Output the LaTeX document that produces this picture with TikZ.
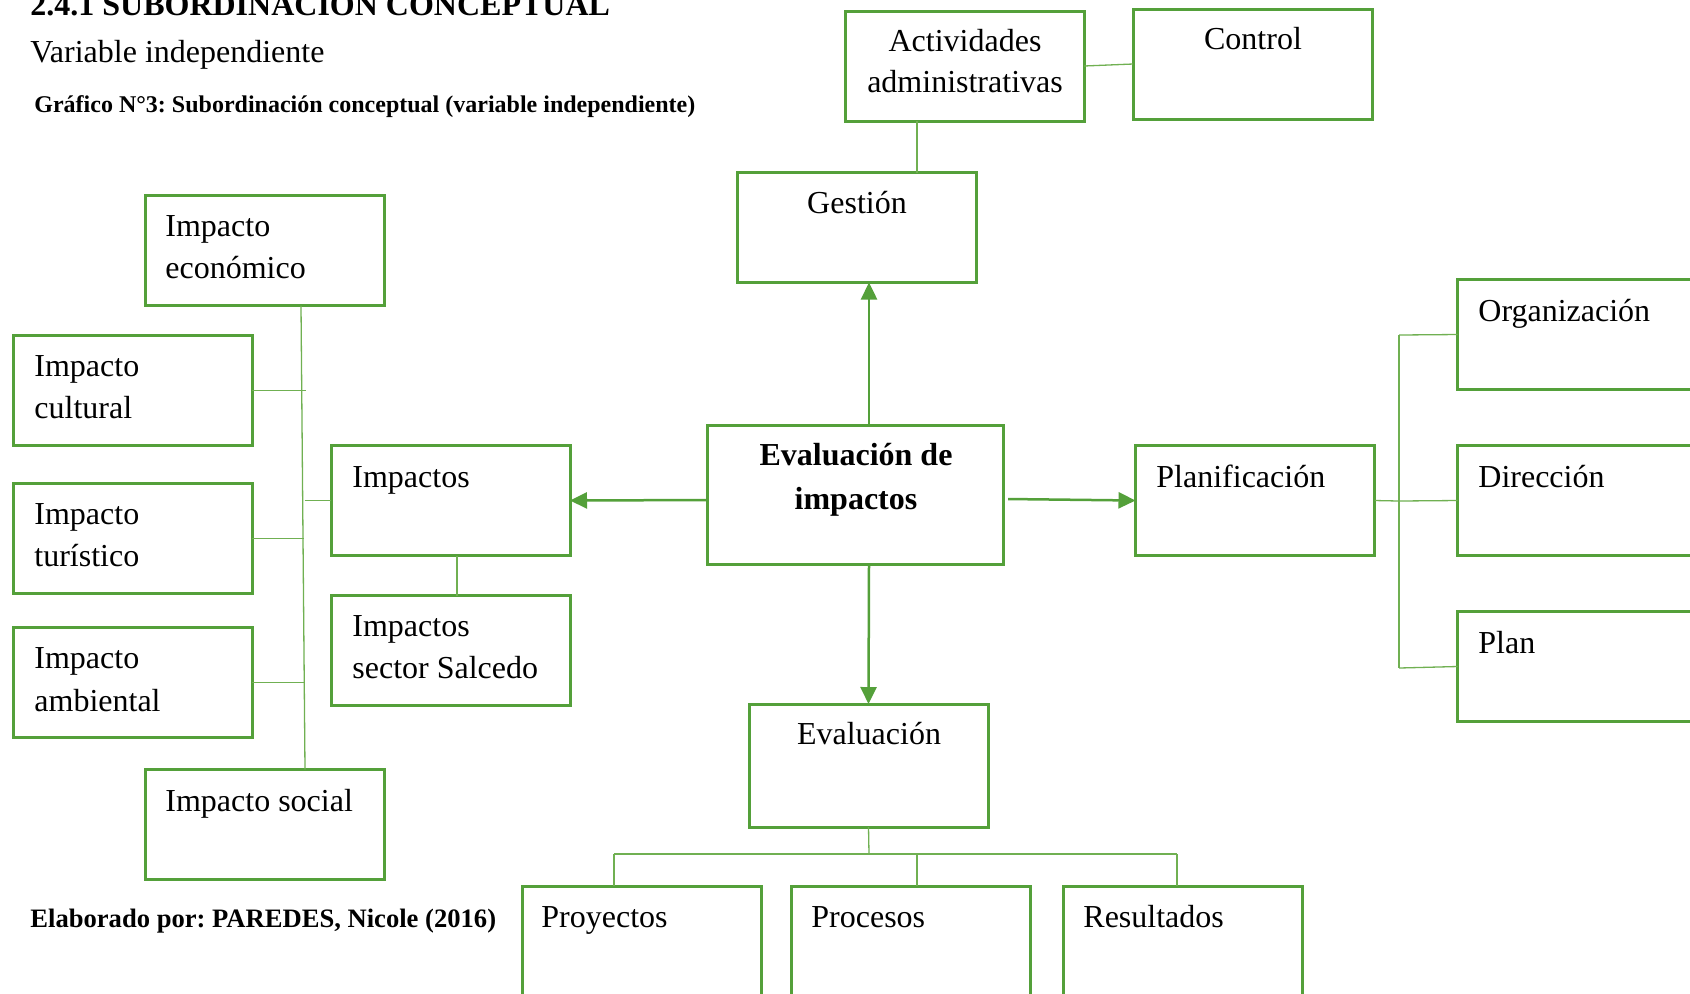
\documentclass[tikz,border=0pt]{standalone}
\usepackage{fontspec}
\setmainfont{Liberation Serif}
\usetikzlibrary{arrows.meta,calc}
\definecolor{gbox}{RGB}{84,160,58}
\definecolor{gline}{RGB}{112,176,82}
\frenchspacing
\tikzset{
  box/.style={draw=gbox, line width=1.5pt, inner sep=0pt, outer sep=0pt, minimum width=119.5pt, minimum height=55pt},
  conn/.style={draw=gline, line width=0.65pt},
  arr/.style={draw=gbox, line width=1.25pt, -{Triangle[length=8.5pt,width=8pt]}},
  tl/.style={anchor=base west, inner sep=0pt, font=\fontsize{16}{20}\selectfont},
  tc/.style={anchor=base, inner sep=0pt, font=\fontsize{16}{20}\selectfont},
  tb/.style={anchor=base, inner sep=0pt, font=\bfseries\fontsize{16}{20}\selectfont},
}
\begin{document}
\begin{tikzpicture}[x=0.5pt,y=-0.5pt]
\useasboundingbox (0,0) rectangle (1690,993);
\fill[white] (0,0) rectangle (1690,993);
\clip (0,0) rectangle (1690,993);

% headings
\node[anchor=base west, inner sep=0pt, font=\bfseries\fontsize{16}{20}\selectfont] (h1) at (30,15) {2.4.1 SUBORDINACIÓN CONCEPTUAL};
\node[tl] (h2) at (30,62) {Variable independiente};
\node[anchor=base west, inner sep=0pt, font=\bfseries\fontsize{12}{14}\selectfont] (h3) at (34,112) {Gráfico N°3: Subordinación conceptual (variable independiente)};
\node[anchor=base west, inner sep=0pt, font=\bfseries\fontsize{13.3}{16}\selectfont] (h4) at (30,927) {Elaborado por: PAREDES, Nicole (2016)};

% boxes
\node[box] (act)  at (964.5,66) {};
\node[box] (ctrl) at (1252.5,64) {};
\node[box] (gest) at (856.5,227.5) {};
\node[box, minimum width=148pt, minimum height=69.5pt] (eval) at (855,494.5) {};
\node[box] (imp)  at (450.5,500.5) {};
\node[box] (sal)  at (450.5,650.5) {};
\node[box] (econ) at (264.5,250.5) {};
\node[box] (cult) at (132.5,390.5) {};
\node[box] (tur)  at (132.5,538.5) {};
\node[box] (amb)  at (132.5,682.5) {};
\node[box] (soc)  at (264.5,824.5) {};
\node[box] (plan) at (1255,500.5) {};
\node[box] (org)  at (1577,334.5) {};
\node[box] (dir)  at (1577,500.5) {};
\node[box] (pln)  at (1577,666.5) {};
\node[box, minimum height=61.5pt] (evl) at (868.5,765.5) {};
\node[box, minimum height=65pt] (proy) at (641.5,951) {};
\node[box, minimum height=65pt] (proc) at (910.5,951) {};
\node[box, minimum height=65pt] (res)  at (1182.5,951) {};

% texts
\node[tc] (t-act1) at (965,51) {Actividades};
\node[tc] (t-act2) at (965,92) {administrativas};
\node[tc] (t-ctrl) at (1253,49) {Control};
\node[tc] (t-gest) at (857,213) {Gestión};
\node[tb] (t-ev1) at (856,465) {Evaluación de};
\node[tb] (t-ev2) at (856,509) {impactos};
\node[tl] (t-imp) at (352,487) {Impactos};
\node[tl] (t-sal1) at (352,636) {Impactos};
\node[tl] (t-sal2) at (352,678) {sector Salcedo};
\node[tl] (t-ec1) at (165,236) {Impacto};
\node[tl] (t-ec2) at (165,278) {económico};
\node[tl] (t-cu1) at (34,376) {Impacto};
\node[tl] (t-cu2) at (34,418) {cultural};
\node[tl] (t-tu1) at (34,524) {Impacto};
\node[tl] (t-tu2) at (34,566) {turístico};
\node[tl] (t-am1) at (34,668) {Impacto};
\node[tl] (t-am2) at (34,711) {ambiental};
\node[tl] (t-soc) at (165,811) {Impacto social};
\node[tl] (t-plan) at (1156,487) {Planificación};
\node[tl] (t-org) at (1478,321) {Organización};
\node[tl] (t-dir) at (1478,487) {Dirección};
\node[tl] (t-pln) at (1478,653) {Plan};
\node[tc] (t-evl) at (869,744) {Evaluación};
\node[tl] (t-proy) at (541,927) {Proyectos};
\node[tl] (t-proc) at (811,927) {Procesos};
\node[tl] (t-res) at (1083,927) {Resultados};

% top connectors
\draw[conn] (act.east) -- (ctrl.west);
\draw[conn] (act.south -| 917,0) -- (gest.north -| 917,0);

% arrows from centre
\coordinate (eR) at ($(eval.east)+(5,4.5)$);
\draw[arr] (eval.north -| 869,0) -- (gest.south -| 869,0);
\draw[arr] (eval.west |- 0,500) -- (imp.east);
\draw[arr] (eR) -- (plan.west);
\draw[arr] (eval.south -| 869,0) -- (evl.north);

% left tree
\coordinate (sTop) at (301,305);
\coordinate (sBot) at (305,770);
\coordinate (sC) at (306,390.5);
\coordinate (sT) at (303.5,538.5);
\coordinate (sA) at (303.5,682.5);
\coordinate (sI) at (304.5,500.5);
\draw[conn] (econ.south -| sTop) -- (soc.north -| sBot);
\draw[conn] (cult.east) -- (sC);
\draw[conn] (tur.east) -- (sT);
\draw[conn] (amb.east) -- (sA);
\draw[conn] (sI) -- (imp.west);
\draw[conn] (imp.south -| 457,0) -- (sal.north -| 457,0);

% right tree
\coordinate (rT) at (1399,335);
\coordinate (rM) at (1399,501);
\coordinate (rB) at (1399,668);
\draw[conn] (rT) -- (rB);
\draw[conn] (plan.east) -- (rM);
\draw[conn] (rT) -- (org.west);
\draw[conn] (rM) -- (dir.west);
\draw[conn] (rB) -- (pln.west);

% bottom tree
\coordinate (bJ) at (869,854);
\coordinate (bL) at (614,854);
\coordinate (bM) at (917,854);
\coordinate (bR) at (1177,854);
\draw[conn] (evl.south) -- (bJ);
\draw[conn] (bL) -- (bR);
\draw[conn] (bL) -- (proy.north -| bL);
\draw[conn] (bM) -- (proc.north -| bM);
\draw[conn] (bR) -- (res.north -| bR);
\end{tikzpicture}
\end{document}
